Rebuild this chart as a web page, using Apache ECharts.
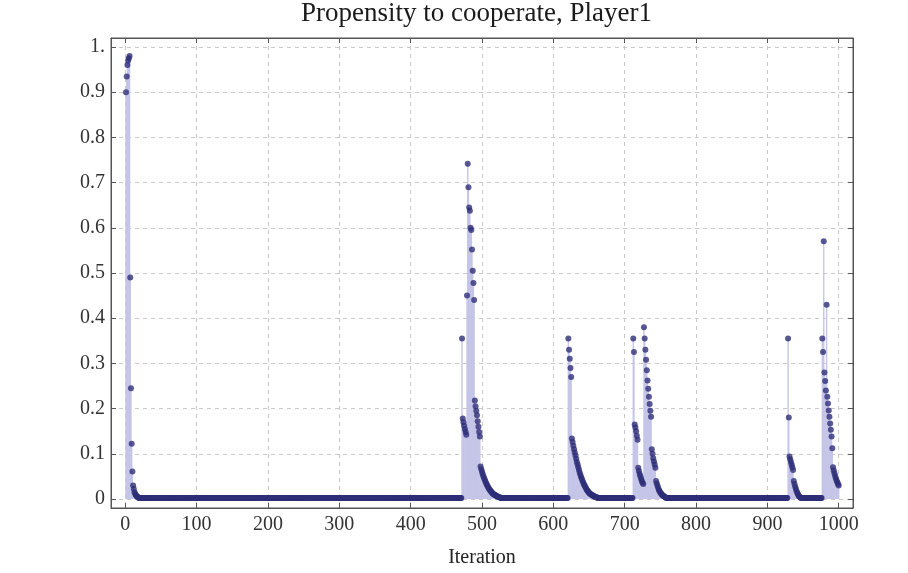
<!DOCTYPE html>
<html>
<head>
<meta charset="utf-8">
<script src="https://cdn.jsdelivr.net/npm/echarts@6/dist/echarts.min.js"></script>
<style>
html,body{margin:0;padding:0;background:#fff;}
#chart{width:908px;height:573px;}
</style>
</head>
<body>
<div id="chart"></div>
<script>
// ---- data ----
const titleText = 'Propensity to cooperate, Player1';
const xAxisTitle = 'Iteration';
const firstIteration = 1;
const lastIteration = 1000;
const quietLevel = 0.002;           // level of the flat stretches between bursts

const burst1Start = 1;
const burst1Values = [0.9, 0.935, 0.96, 0.97, 0.975, 0.98, 0.49, 0.245, 0.122, 0.061, 0.03, 0.022, 0.015, 0.011, 0.008, 0.006, 0.005, 0.004];

const burst2Start = 472;
const burst2Values = [0.355, 0.178, 0.17, 0.162, 0.155, 0.148, 0.142, 0.45, 0.742, 0.69, 0.645, 0.638, 0.6, 0.595, 0.552, 0.505, 0.478, 0.44,
  0.218, 0.205, 0.195, 0.185, 0.172, 0.16, 0.148, 0.138, 0.072, 0.066, 0.06, 0.055, 0.05, 0.046, 0.042, 0.038, 0.034, 0.031,
  0.028, 0.025, 0.022, 0.02, 0.018, 0.016, 0.014, 0.012, 0.011, 0.01, 0.009, 0.008, 0.007, 0.006, 0.005, 0.005, 0.004, 0.004];

const burst3Start = 621;
const burst3Values = [0.355, 0.33, 0.31, 0.29, 0.27, 0.134, 0.126, 0.118, 0.11, 0.103, 0.096, 0.089, 0.082, 0.076, 0.07, 0.064,
  0.058, 0.053, 0.048, 0.044, 0.04, 0.036, 0.032, 0.029, 0.026, 0.023, 0.02, 0.018, 0.016, 0.014, 0.012, 0.011, 0.01, 0.009,
  0.008, 0.007, 0.006, 0.005, 0.005, 0.004, 0.004];

const burst4Start = 712;
const burst4Values = [0.355, 0.325, 0.165, 0.158, 0.15, 0.14, 0.131, 0.069, 0.062, 0.055, 0.05, 0.045, 0.04, 0.036, 0.033,
  0.38, 0.355, 0.33, 0.308, 0.285, 0.262, 0.244, 0.226, 0.21, 0.195, 0.182, 0.11, 0.1, 0.09, 0.083, 0.076, 0.069,
  0.04, 0.034, 0.029, 0.024, 0.02, 0.017, 0.014, 0.012, 0.01, 0.008, 0.007, 0.006, 0.005, 0.004];

const burst5Start = 929;
const burst5Values = [0.355, 0.18, 0.094, 0.088, 0.082, 0.076, 0.07, 0.064, 0.04, 0.033, 0.027, 0.022, 0.017, 0.013, 0.01, 0.007, 0.005, 0.004];

const burst6Start = 977;
const burst6Values = [0.355, 0.325, 0.57, 0.28, 0.261, 0.24, 0.43, 0.226, 0.211, 0.196, 0.182, 0.167, 0.153, 0.138, 0.112,
  0.07, 0.063, 0.057, 0.051, 0.046, 0.041, 0.037, 0.033, 0.03];

// ---- assemble the series ----
const bursts = [
  [burst1Start, burst1Values], [burst2Start, burst2Values], [burst3Start, burst3Values],
  [burst4Start, burst4Values], [burst5Start, burst5Values], [burst6Start, burst6Values]
];
const points = [];
for (let it = firstIteration; it <= lastIteration; it++) {
  let v = quietLevel;
  for (const [s, vals] of bursts) {
    if (it >= s && it < s + vals.length) { v = vals[it - s]; break; }
  }
  points.push([it, v]);
}

const serif = 'Liberation Serif';
const chart = echarts.init(document.getElementById('chart'), null, {renderer: 'canvas'});

function yFmt(v) {
  if (Math.abs(v * 10 - Math.round(v * 10)) > 1e-6) return '';
  if (Math.abs(v - 1) < 1e-9) return '1.';
  if (Math.abs(v) < 1e-9) return '0';
  return v.toFixed(1);
}
function xFmt(v) {
  return (Math.round(v) % 100 === 0) ? String(Math.round(v)) : '';
}

const frameColor = '#555';
const tickCommon = {show: true, inside: true, length: 5, lineStyle: {color: frameColor, width: 1}};

chart.setOption({
  animation: false,
  backgroundColor: '#ffffff',
  title: {
    text: titleText,
    left: 301,
    top: 0,
    padding: 0,
    textStyle: {fontFamily: serif, fontSize: 27, fontWeight: 'normal', color: '#1a1a1a'}
  },
  grid: {left: 111, right: 55, top: 38, bottom: 61, show: true, borderColor: frameColor, borderWidth: 1, containLabel: false},
  xAxis: [{
    type: 'value', min: -20, max: 1020, splitNumber: 10,
    name: xAxisTitle, nameLocation: 'middle', nameGap: 40,
    nameTextStyle: {fontFamily: serif, fontSize: 20, color: '#222'},
    axisLine: {show: true, onZero: false, lineStyle: {color: frameColor}},
    axisTick: tickCommon,
    axisLabel: {formatter: xFmt, fontFamily: serif, fontSize: 20, color: '#333', margin: 7, hideOverlap: false},
    splitLine: {show: true, lineStyle: {color: '#c9c9c9', type: [4, 4], width: 1}}
  }, {
    type: 'value', position: 'top', min: -20, max: 1020, splitNumber: 10,
    axisLine: {show: true, onZero: false, lineStyle: {color: frameColor}},
    axisTick: tickCommon,
    axisLabel: {show: false}, splitLine: {show: false}
  }],
  yAxis: [{
    type: 'value', min: -0.02, max: 1.02, splitNumber: 10,
    axisLine: {show: true, onZero: false, lineStyle: {color: frameColor}},
    axisTick: tickCommon,
    axisLabel: {formatter: yFmt, fontFamily: serif, fontSize: 20, color: '#333', margin: 6, hideOverlap: false},
    splitLine: {show: true, lineStyle: {color: '#c9c9c9', type: [4, 4], width: 1}}
  }, {
    type: 'value', position: 'right', min: -0.02, max: 1.02, splitNumber: 10,
    axisLine: {show: true, onZero: false, lineStyle: {color: frameColor}},
    axisTick: tickCommon,
    axisLabel: {show: false}, splitLine: {show: false}
  }],
  series: [{
    name: 'filling',
    type: 'bar',
    xAxisIndex: 0, yAxisIndex: 0,
    data: points,
    barWidth: 1.4,
    itemStyle: {color: '#c5c5e8'},
    silent: true,
    z: 1
  }, {
    name: 'Player1',
    type: 'scatter',
    xAxisIndex: 0, yAxisIndex: 0,
    data: points,
    symbol: 'circle',
    symbolSize: 6,
    itemStyle: {color: '#2e2e78'},
    silent: true,
    z: 3
  }]
});
</script>
</body>
</html>
